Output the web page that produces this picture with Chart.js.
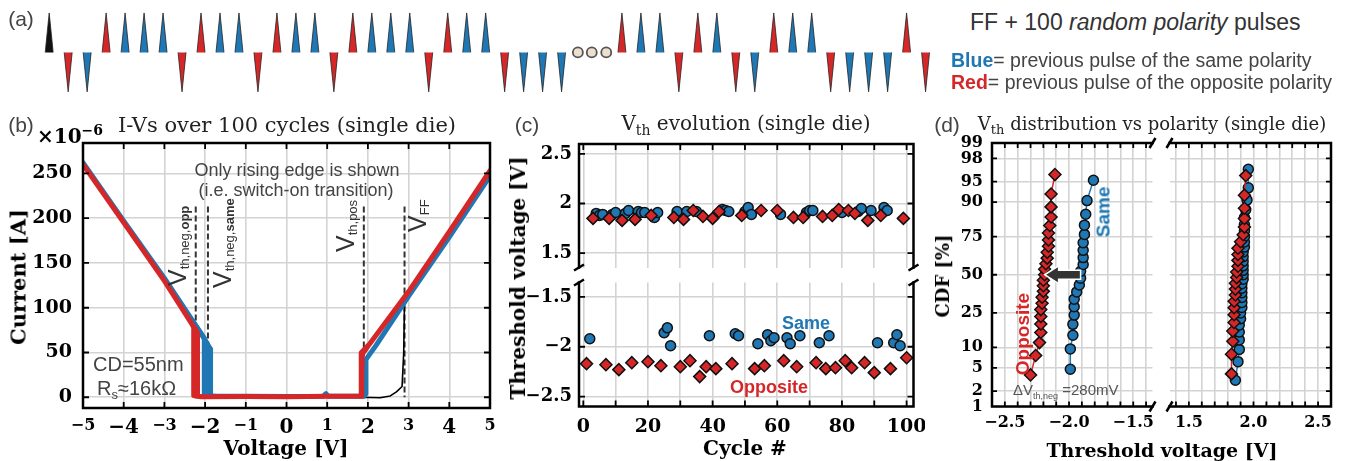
<!DOCTYPE html>
<html><head><meta charset="utf-8">
<script src="https://cdn.jsdelivr.net/npm/chart.js@4.4.1/dist/chart.umd.min.js"></script>
<style>
body{margin:0;background:#fff;width:1351px;height:461px;overflow:hidden;position:relative;font-family:"Liberation Sans",Arial,sans-serif}
canvas{position:absolute}
.t{position:absolute;white-space:nowrap;line-height:1}
.sf{font-family:"DejaVu Serif",serif}
</style></head><body>
<script>
// Vth per cycle 1..100; sign = pulse polarity, FF pulse is positive
const cycleVth = [
  -2.17, -1.92, 1.85, 1.90, 1.88, 1.89, -2.18, 1.85, 1.89, 1.91,
  -2.23, 1.83, 1.90, 1.93, -2.16, 1.84, 1.92, 1.91, 1.91, -2.15,
  1.88, 1.86, 1.91, -2.19, -1.86, -1.81, -1.99, 1.86, 1.92, -2.20,
  1.84, 1.92, -2.14, 1.93, 1.92, -2.30, 1.87, -2.20, -1.89, 1.85,
  -2.22, 1.92, 1.94, 1.93, 1.92, -2.17, -1.87, -1.89, 1.88, 1.92,
  1.96, 1.89, -2.22, -1.97, 1.93, -2.19, -1.88, -1.94, -1.91, 1.93,
  1.89, -2.14, -1.91, -1.97, 1.86, -2.20, -1.89, 1.86, 1.91, 1.93,
  1.93, -2.16, -1.96, 1.87, -2.22, -1.89, 1.88, -2.21, 1.94, 1.91,
  -2.14, 1.93, -2.21, 1.90, 1.92, 1.95, -2.16, 1.83, 1.93, -2.26,
  -1.96, 1.88, 1.96, 1.93, -2.22, -1.96, -1.88, -1.99, 1.85, -2.11
];

// pulse train (a): cycles shown before / after the ellipsis
const trainLeft = 27;
const trainRight = 84;
const trainGap = 3.18;

// I-V curves of panel (b): [V, I in uA]
const ivOppA = [[-5,260],[-4,195],[-3,130],[-2.3,80],[-2.28,78],[-2.28,2],[-2.1,0.5],[-1,0.8],[0,0.5],[1,1],[1.84,1],[1.85,20],[1.86,48],[2,57],[3,118],[4,185],[5,253]];
const ivOppB = [[-2.3,80],[-2.23,76],[-2.23,1]];
const ivOppC = [[-2.3,80],[-2.18,72],[-2.18,1],[-2.1,0.5]];
const ivOppD = [[1.82,1],[1.83,50],[2,58]];
const ivSameA = [[-5,262],[-4,197],[-3,133],[-2.3,85],[-2.02,66],[-2.02,2],[-1.8,1],[-1,1],[0,0.8],[0.9,1],[0.97,4],[1.03,1],[1.9,1],[1.94,4],[1.95,42],[2.2,58],[3,113],[4,179],[5,247]];
const ivSameB = [[-2.3,85],[-1.94,60],[-1.94,2]];
const ivSameC = [[-2.3,85],[-1.86,54],[-1.86,2],[-1.7,1]];
const ivFF = [[1.8,0],[2.3,-0.5],[2.55,1.5],[2.7,6],[2.84,12],[2.88,50],[2.9,110],[3,116],[5,250]];
const vLines = [-2.23, -1.93, 1.9, 2.9];
const vLineTop = 213;
const vLabels = ['th,neg,<b>opp</b>', 'th,neg,<b>same</b>', 'th,pos', 'FF'];

// ticks
const ivVTicks = [-5,-4,-3,-2,-1,0,1,2,3,4,5];
const ivITicks = [0,50,100,150,200,250];
const cycTicks = [0,10,20,30,40,50,60,70,80,90,100];
const vthHiTicks = [1.5,2,2.5];
const vthLoTicks = [-2.5,-2,-1.5];
const cdfTicks = [1,2,5,10,25,50,75,90,95,98,99];

const RED = '#d62728', BLUE = '#1f77b4';

function probit(p){
  const a=[-3.969683028665376e+01,2.209460984245205e+02,-2.759285104469687e+02,1.383577518672690e+02,-3.066479806614716e+01,2.506628277459239e+00];
  const b=[-5.447609879822406e+01,1.615858368580409e+02,-1.556989798598866e+02,6.680131188771972e+01,-1.328068155288572e+01];
  const c=[-7.784894002430293e-03,-3.223964580411365e-01,-2.400758277161838e+00,-2.549732539343734e+00,4.374664141464968e+00,2.938163982698783e+00];
  const d=[7.784695709041462e-03,3.224671290700398e-01,2.445134137142996e+00,3.754408661907416e+00];
  const lo=0.02425;
  if(p<lo){const q=Math.sqrt(-2*Math.log(p));return (((((c[0]*q+c[1])*q+c[2])*q+c[3])*q+c[4])*q+c[5])/((((d[0]*q+d[1])*q+d[2])*q+d[3])*q+1);}
  if(p>1-lo){const q=Math.sqrt(-2*Math.log(1-p));return -(((((c[0]*q+c[1])*q+c[2])*q+c[3])*q+c[4])*q+c[5])/((((d[0]*q+d[1])*q+d[2])*q+d[3])*q+1);}
  const q=p-0.5,r=q*q;
  return (((((a[0]*r+a[1])*r+a[2])*r+a[3])*r+a[4])*r+a[5])*q/(((((b[0]*r+b[1])*r+b[2])*r+b[3])*r+b[4])*r+1);
}

// same / opposite: compare with the previous pulse polarity
const pol = cycleVth.map(v => Math.sign(v));
const same = pol.map((p,i) => p === (i ? pol[i-1] : 1));
const pick = (sgn, s) => cycleVth.map((v,i)=>({x:i+1,y:v,s:same[i]})).filter(o => Math.sign(o.y)===sgn && o.s===s);
const posOpp = pick(1,false), posSame = pick(1,true), negOpp = pick(-1,false), negSame = pick(-1,true);
const cdf = arr => arr.map(o=>o.y).sort((a,b)=>a-b).map((v,i,s)=>({x:v,y:probit((i+1)/(s.length+1))}));
const median = arr => { const s = arr.map(o=>o.y).sort((a,b)=>a-b); const m = s.length>>1; return s.length%2 ? s[m] : (s[m-1]+s[m])/2; };

const fmt = (v, dec) => (v < 0 ? '\u2212' : '') + (dec ? Math.abs(v).toFixed(dec) : String(+Math.abs(v).toFixed(2)));

function addCanvas(box){
  const cv = document.createElement('canvas');
  cv.width = box[2]; cv.height = box[3];
  cv.style.cssText = `left:${box[0]}px;top:${box[1]}px;width:${box[2]}px;height:${box[3]}px`;
  document.body.appendChild(cv);
  return cv;
}
function txt(html, x, y, css){
  const d = document.createElement('div');
  d.className = 't';
  d.innerHTML = html;
  d.style.cssText = `left:${x}px;top:${y}px;` + (css || '');
  document.body.appendChild(d);
  return d;
}
const C = 'transform:translate(-50%,-50%);';
const R = 'transform:translate(-50%,-50%) rotate(-90deg);';

const framePlugin = {
  id: 'frame',
  afterDraw(chart, args, o){
    const {ctx, chartArea:a} = chart;
    const sx = chart.scales.x, sy = chart.scales.y;
    const L = o.len || 6;
    ctx.save();
    ctx.strokeStyle = '#000';
    ctx.lineWidth = 1.8;
    ctx.beginPath();
    if (o.xt) sx.ticks.forEach(t => {
      const p = sx.getPixelForValue(t.value);
      if (p <= a.left+2 || p >= a.right-2) return;
      if (o.xt.includes('t')) { ctx.moveTo(p,a.top); ctx.lineTo(p,a.top+L); }
      if (o.xt.includes('b')) { ctx.moveTo(p,a.bottom); ctx.lineTo(p,a.bottom-L); }
    });
    if (o.yt) sy.ticks.forEach(t => {
      const p = sy.getPixelForValue(t.value);
      if (p <= a.top+2 || p >= a.bottom-2) return;
      if (o.yt.includes('l')) { ctx.moveTo(a.left,p); ctx.lineTo(a.left+L,p); }
      if (o.yt.includes('r')) { ctx.moveTo(a.right,p); ctx.lineTo(a.right-L,p); }
    });
    ctx.stroke();
    ctx.lineWidth = 2.5;
    ctx.lineCap = 'square';
    ctx.beginPath();
    const s = o.sides || 'ltrb';
    if (s.includes('t')) { ctx.moveTo(a.left,a.top); ctx.lineTo(a.right,a.top); }
    if (s.includes('b')) { ctx.moveTo(a.left,a.bottom); ctx.lineTo(a.right,a.bottom); }
    if (s.includes('l')) { ctx.moveTo(a.left,a.top); ctx.lineTo(a.left,a.bottom); }
    if (s.includes('r')) { ctx.moveTo(a.right,a.top); ctx.lineTo(a.right,a.bottom); }
    ctx.stroke();
    ctx.lineCap = 'butt';
    const [dx,dy] = o.bd || [5,3];
    (o.breaks || []).forEach(k => {
      const x = k[0]==='l' ? a.left : a.right, y = k[1]==='t' ? a.top : a.bottom;
      ctx.beginPath(); ctx.moveTo(x-dx,y+dy); ctx.lineTo(x+dx,y-dy); ctx.stroke();
    });
    ctx.restore();
  }
};

function axis(min, max, ticks, o = {}){
  return {
    type:'linear', min, max,
    afterBuildTicks: s => { s.ticks = ticks.map(v => ({value:v})); },
    grid:{color:'#d3d3d3', lineWidth:1.6, drawTicks:false},
    border:{display:false},
    ticks:{display:!o.hide, autoSkip:false, maxRotation:0, padding:o.pad ?? 8, color:'#000',
      font:o.font || {family:'DejaVu Serif', weight:'bold', size:o.size || 18},
      callback:o.cb || (v => fmt(v))}
  };
}

function plot(box, area, datasets, x, y, frame, extra = []){
  x.afterFit = s => { s.height = box[1]+box[3]-area[3]; s.paddingLeft = 0; s.paddingRight = 0; };
  y.afterFit = s => { s.width = area[0]-box[0]; s.paddingTop = 0; s.paddingBottom = 0; };
  return new Chart(addCanvas(box), {
    type:'scatter',
    data:{datasets},
    options:{
      responsive:false, animation:false, devicePixelRatio:1, events:[],
      layout:{padding:{left:0, bottom:0, top:area[1]-box[1], right:box[0]+box[2]-area[2]}},
      plugins:{legend:{display:false}, tooltip:{enabled:false}, frame},
      scales:{x, y}
    },
    plugins:[framePlugin, ...extra]
  });
}

const pts = (data, color, shape, line) => ({
  data, showLine:!!line, borderColor:color, borderWidth:1.5,
  pointStyle:shape, pointRadius:shape==='rectRot' ? 6 : 5,
  pointBackgroundColor:color, pointBorderColor:'#111', pointBorderWidth:1.5
});
const curve = (pairs, color, w, order) => ({
  data:pairs.map(([x,y]) => ({x,y})), showLine:true, borderColor:color, borderWidth:w,
  pointRadius:0, borderJoinStyle:'round', borderCapStyle:'round', order
});

// ---------- (a) pulse train ----------
const pulses = [{slot:0, s:1, c:'#111'}];
cycleVth.forEach((v,i) => {
  const k = i+1;
  let slot = null;
  if (k <= trainLeft) slot = k;
  else if (k >= trainRight) slot = trainLeft + trainGap + (k - trainRight);
  if (slot !== null) pulses.push({slot, s:Math.sign(v), c:same[i] ? BLUE : RED});
});
const trainSets = pulses.map(p => ({
  data:[{x:p.slot-0.21,y:0},{x:p.slot,y:p.s},{x:p.slot+0.21,y:0}],
  showLine:true, fill:'origin', backgroundColor:p.c, borderColor:'#222', borderWidth:0.8, pointRadius:0
}));
trainSets.push({
  data:[0.27,0.5,0.74].map(f => ({x:trainLeft+trainGap*f, y:0})),
  pointRadius:5, pointBackgroundColor:'#ecdfcf', pointBorderColor:'#555', pointBorderWidth:1.8
});
new Chart(addCanvas([0,0,960,110]), {
  type:'scatter', data:{datasets:trainSets},
  options:{responsive:false, animation:false, devicePixelRatio:1, events:[], layout:{padding:0},
    plugins:{legend:{display:false}, tooltip:{enabled:false}},
    scales:{x:{type:'linear', display:false, min:-2.234, max:47.636}, y:{type:'linear', display:false, min:-1.289, max:1.156}}}
});

// ---------- (b) I-V ----------
const vlinePlugin = {
  id:'vlines',
  beforeDatasetsDraw(chart){
    const {ctx, scales:{x,y}} = chart;
    ctx.save(); ctx.setLineDash([6,3]); ctx.strokeStyle = '#333'; ctx.lineWidth = 2;
    vLines.forEach(v => { const p = x.getPixelForValue(v); ctx.beginPath(); ctx.moveTo(p,y.getPixelForValue(vLineTop)); ctx.lineTo(p,y.getPixelForValue(0)); ctx.stroke(); });
    ctx.restore();
  }
};
const ivChart = plot([0,110,500,351],[83,143,490,408],
  [curve(ivOppA,RED,5,0), curve(ivOppB,RED,4.5,1), curve(ivOppC,RED,4.5,2), curve(ivOppD,RED,4.5,3),
   curve(ivSameA,BLUE,5,4), curve(ivSameB,BLUE,4.5,5), curve(ivSameC,BLUE,4.5,6), curve(ivFF,'#000',1.6,7)],
  axis(-5,5,ivVTicks,{pad:8, font:c => ({family:'DejaVu Serif', weight:'bold', size:(c.tick && Math.abs(Math.round(c.tick.value))%2===0) ? 20 : 16})}),
  axis(-12,284,ivITicks,{pad:11, size:19}),
  {sides:'ltrb', xt:'tb', yt:'lr', len:6}, [vlinePlugin]);
const vLabDx = [-31, 2, -31, 0];
const vLabY = [286, 288, 252, 232];
vLines.forEach((v,i) => {
  const px = ivChart.scales.x.getPixelForValue(v);
  txt(`V<span style="font-size:13px;vertical-align:-3px">${vLabels[i]}</span>`, px+vLabDx[i], vLabY[i],
    'font-size:25px;color:#333;transform-origin:0 0;transform:rotate(-90deg)');
});

// ---------- (c) Vth evolution ----------
plot([500,110,425,165],[579,144,913.5,269],
  [pts(posOpp,RED,'rectRot'), pts(posSame,BLUE,'circle')],
  axis(-1.33,102.13,cycTicks,{hide:true}), axis(1.355,2.6,vthHiTicks,{pad:7,size:18}),
  {sides:'ltr', xt:'t', yt:'lr', breaks:['lb','rb'], bd:[5,3]});
plot([500,275,425,186],[579,281,913.5,406.5],
  [pts(negOpp,RED,'rectRot'), pts(negSame,BLUE,'circle')],
  axis(-1.33,102.13,cycTicks,{pad:9,size:19,cb:v => v%20===0 ? fmt(v) : ''}), axis(-2.6,-1.355,vthLoTicks,{pad:7,size:18}),
  {sides:'lbr', xt:'b', yt:'lr', breaks:['lt','rt'], bd:[5,3]});

// ---------- (d) CDF ----------
const zMin = probit(0.01), zMax = probit(0.99);
const cdfZ = cdfTicks.map(p => probit(p/100));
const gridL = [], gridR = [];
for (let k = -26; k <= -14; k++) gridL.push(k/10);
for (let k = 14; k <= 26; k++) gridR.push(k/10);
const halfLab = v => Math.round(Math.abs(v)*10)%5===0 ? fmt(v,1) : '';
const arrowPlugin = {
  id:'arrow',
  afterDatasetsDraw(chart){
    const {ctx, scales:{x,y}} = chart;
    const x0 = x.getPixelForValue(median(negSame)), x1 = x.getPixelForValue(median(negOpp)), yc = y.getPixelForValue(0);
    const hl = 14, hw = 9, sw = 4.5;
    ctx.save(); ctx.beginPath();
    ctx.moveTo(x1,yc); ctx.lineTo(x1+hl,yc-hw); ctx.lineTo(x1+hl,yc-sw); ctx.lineTo(x0,yc-sw);
    ctx.lineTo(x0,yc+sw); ctx.lineTo(x1+hl,yc+sw); ctx.lineTo(x1+hl,yc+hw); ctx.closePath();
    ctx.fillStyle = '#333'; ctx.strokeStyle = '#fff'; ctx.lineWidth = 1.5; ctx.fill(); ctx.stroke();
    ctx.restore();
  }
};
plot([925,110,235,351],[992,143,1155,406.5],
  [pts(cdf(negOpp),RED,'rectRot',true), pts(cdf(negSame),BLUE,'circle',true)],
  axis(-2.6,-1.35,gridL,{pad:7,size:16,cb:halfLab}),
  axis(zMin,zMax,cdfZ,{pad:9,size:16,cb:(v,i) => String(cdfTicks[i])}),
  {sides:'ltb', xt:'tb', yt:'l', len:5, breaks:['rt','rb'], bd:[3,5]}, [arrowPlugin]);
plot([1162,110,189,351],[1168,143,1331,406.5],
  [pts(cdf(posOpp),RED,'rectRot',true), pts(cdf(posSame),BLUE,'circle',true)],
  axis(1.35,2.6,gridR,{pad:7,size:16,cb:halfLab}),
  axis(zMin,zMax,cdfZ,{hide:true}),
  {sides:'trb', xt:'tb', yt:'r', len:5, breaks:['lt','lb'], bd:[3,5]});

// ---------- texts ----------
const sub = (s, sz, off) => `<span style="font-size:${sz}px;vertical-align:${off}px">${s}</span>`;
txt('(a)', 21, 18, C+'font-size:21px;color:#444');
txt('FF + 100 <i>random polarity</i> pulses', 970, 22, 'transform:translateY(-50%);font-size:23px;color:#333');
txt(`<b style="color:${BLUE}">Blue</b>= previous pulse of the same polarity`, 951, 61, 'transform:translateY(-50%);font-size:19.5px;color:#444');
txt(`<b style="color:${RED}">Red</b>= previous pulse of the opposite polarity`, 951, 83, 'transform:translateY(-50%);font-size:19.5px;color:#444');
txt('(b)', 21, 124, C+'font-size:21px;color:#444');
txt('(c)', 527, 124, C+'font-size:21px;color:#444');
txt('(d)', 947, 124, C+'font-size:21px;color:#444');
txt('I-Vs over 100 cycles (single die)', 287, 125, C+'font-size:21px;color:#222').classList.add('sf');
txt('V'+sub('th',14,-5)+' evolution (single die)', 746, 125, C+'font-size:20px;color:#222').classList.add('sf');
txt('V'+sub('th',13,-4)+' distribution vs polarity (single die)', 1152, 125, C+'font-size:18px;color:#222').classList.add('sf');
txt('×10'+sub('\u22126',14,8), 37, 134, 'transform:translateY(-50%);font-size:20px;font-weight:bold').classList.add('sf');
txt('Current [A]', 18, 277, R+'font-size:21px;font-weight:bold').classList.add('sf');
txt('Voltage [V]', 286, 448, C+'font-size:20px;font-weight:bold').classList.add('sf');
txt('Threshold voltage [V]', 518, 278, R+'font-size:20px;font-weight:bold').classList.add('sf');
txt('Cycle #', 745, 448, C+'font-size:20px;font-weight:bold').classList.add('sf');
txt('CDF [%]', 943, 276, R+'font-size:18px;font-weight:bold').classList.add('sf');
txt('Threshold voltage [V]', 1162, 450, C+'font-size:19px;font-weight:bold').classList.add('sf');
txt('Only rising edge is shown', 297, 170, C+'font-size:18px;color:#444');
txt('(i.e. switch-on transition)', 296, 190, C+'font-size:18px;color:#444');
txt('CD=55nm', 93, 364, 'transform:translateY(-50%);font-size:20px;color:#444');
txt('R'+sub('s',13,-4)+'≈16kΩ', 97, 389, 'transform:translateY(-50%);font-size:20px;color:#444');
txt('Same', 806, 323, C+`font-size:18px;font-weight:bold;color:${BLUE}`);
txt('Opposite', 769, 387, C+`font-size:18px;font-weight:bold;color:${RED}`);
txt('Opposite', 1022, 334, R+`font-size:19px;font-weight:bold;color:${RED}`);
txt('Same', 1103, 212, R+`font-size:19px;font-weight:bold;color:${BLUE}`);
txt('ΔV'+sub('th,neg',9,-4)+' =280mV', 1013, 391, 'transform:translateY(-50%);font-size:15px;color:#555');
</script>
</body></html>
